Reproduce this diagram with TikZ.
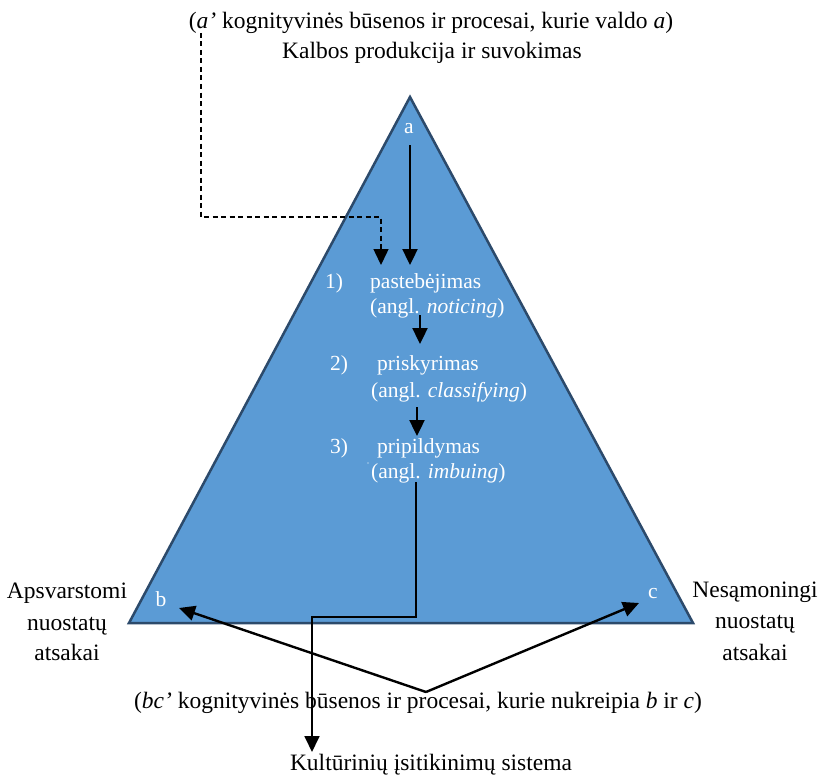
\documentclass[tikz,border=0pt]{standalone}
\usepackage{fontspec}
\setmainfont{Liberation Serif}
\usetikzlibrary{arrows.meta}
\definecolor{triFill}{HTML}{5B9BD5}
\definecolor{triEdge}{HTML}{2C4A6B}
\begin{document}
\begin{tikzpicture}[x=1pt,y=-1pt,
  outer/.style={font=\fontsize{23.5}{28}\selectfont, inner sep=0pt, anchor=base},
  inner/.style={font=\fontsize{21.5}{26}\selectfont, text=white, inner sep=0pt, anchor=base west},
  corner/.style={font=\fontsize{21.5}{26}\selectfont, text=white, inner sep=0pt, anchor=base},
  tip/.style={-{Triangle[length=16pt,width=15pt]}},
  flow/.style={line width=2.4pt, tip},
  thinflow/.style={line width=1.8pt, tip},
  dashflow/.style={line width=1.5pt, dash pattern=on 5pt off 3.5pt, tip}]
\useasboundingbox (0,0) rectangle (822,776);

% the triangle
\coordinate (apex) at (410,97);
\coordinate (right) at (693,623);
\coordinate (left) at (129,623);
\filldraw[fill=triFill, draw=triEdge, line width=2.5pt, line join=miter] (apex) -- (right) -- (left) -- cycle;

% headings above
\node[outer] (aprime) at (431,29) {({\itshape a’} kognityvinės būsenos ir procesai, kurie valdo {\itshape a})};
\node[outer] (speech) at (432,59) {Kalbos produkcija ir suvokimas};

% corner letters
\node[corner] (a) at (409,133) {a};
\node[corner] (b) at (161,606) {b};
\node[corner] (c) at (653,598) {c};

% the three steps
\node[inner] (n1) at (325,288) {1)};
\node[inner] (s1) at (370,288) {pastebėjimas};
\node[inner] (e1) at (370,313) {(angl. \textit{noticing})};
\node[inner] (n2) at (330,370) {2)};
\node[inner] (s2) at (377,370) {priskyrimas};
\node[inner] (e2) at (371,397) {(angl. \textit{classifying})};
\node[inner] (n3) at (330,453) {3)};
\node[inner] (s3) at (377,453) {pripildymas};
\node[inner] (e3) at (371,478) {(angl. \textit{imbuing})};
\fill[white] (368,463) circle (0.7);

% side labels
\node[outer] (l1) at (67,598) {Apsvarstomi};
\node[outer] (l2) at (67,630) {nuostatų};
\node[outer] (l3) at (67,660) {atsakai};
\node[outer] (r1) at (755,597) {Nesąmoningi};
\node[outer] (r2) at (755,628) {nuostatų};
\node[outer] (r3) at (755,660) {atsakai};

% bottom labels
\node[outer] (bc) at (418,708) {({\itshape bc’} kognityvinės būsenos ir procesai, kurie nukreipia {\itshape b} ir {\itshape c})};
\node[outer] (culture) at (431,770) {Kultūrinių įsitikinimų sistema};

% connector end points
\coordinate (aTop) at (410,145);
\coordinate (aBot) at (410,265);
\coordinate (dStart) at (201,33);
\coordinate (dBend1) at (201,217);
\coordinate (dBend2) at (381,217);
\coordinate (dEnd) at (381,265);
\coordinate (k1a) at (420,315);
\coordinate (k1b) at (420,344);
\coordinate (k2a) at (417,407);
\coordinate (k2b) at (417,436);
\coordinate (k3a) at (416,482);
\coordinate (k3b) at (416,617);
\coordinate (k3c) at (312,617);
\coordinate (k3d) at (312,752);
\coordinate (fork) at (426,692);
\coordinate (bTip) at (179,608);
\coordinate (cTip) at (639,603);

% connectors
\draw[flow] (aTop) -- (aBot);
\draw[dashflow] (dStart) -- (dBend1) -- (dBend2) -- (dEnd);
\draw[flow] (k1a) -- (k1b);
\draw[flow] (k2a) -- (k2b);
\draw[thinflow] (k3a) -- (k3b) -- (k3c) -- (k3d);
\draw[flow] (fork) -- (bTip);
\draw[flow] (fork) -- (cTip);
\end{tikzpicture}
\end{document}
